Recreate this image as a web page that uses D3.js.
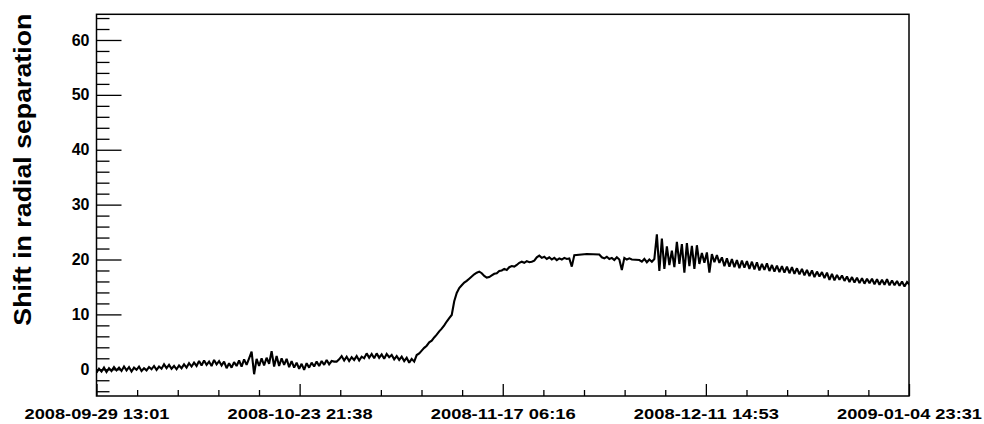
<!DOCTYPE html>
<html><head><meta charset="utf-8">
<script src="https://cdn.jsdelivr.net/npm/d3@7"></script>
<style>body{margin:0;background:#fff}</style>
</head><body>
<svg id="chart" width="984" height="424"></svg>
<script>
// ---- data ----
const startTime = "2008-09-29 13:01";
const endTime = "2009-01-04 23:31";
const stepDays = 0.3; // sampling interval of the series below
const shift = [
 -0.6, 0.1,-0.4, 0.3,-0.5, 0.2,-0.3, 0.4,-0.2, 0.3,
 -0.3, 0.5,-0.2, 0.4,-0.4, 0.3,-0.1, 0.5,-0.3, 0.2,
 -0.2, 0.4, 0.0, 0.6,-0.1, 0.5, 0.1, 0.9, 0.2, 0.8,
  0.1, 0.6, 0.0, 0.7, 0.2, 0.9, 0.3, 1.1, 0.5, 1.2,
  0.6, 1.5, 0.7, 1.6, 0.8, 1.4, 0.6, 1.7, 0.9, 1.5,
  0.7, 1.4, 0.2, 1.1, 0.3, 1.3, 0.6, 1.6, 0.5, 1.8,
  0.8, 2.0, 3.2,-0.9, 1.9, 0.6, 2.0, 0.7, 2.1, 1.0,
  3.3, 0.5, 2.4, 0.6, 2.0, 0.8, 1.9, 0.4, 1.5, 0.3,
  1.2, 0.1, 1.0,-0.1, 1.1, 0.3, 1.2, 0.5, 1.4, 0.6,
  1.5, 0.8, 1.7, 0.9, 1.5, 1.4, 1.4, 1.8, 2.4, 1.6,
  2.3, 1.5, 2.2, 1.7, 2.4, 1.6, 2.3, 2.0, 2.9, 2.1,
  2.8, 2.0, 2.9, 2.1, 2.7, 1.9, 2.8, 2.2, 2.6, 1.8,
  2.4, 1.7, 2.3, 1.5, 2.1, 1.2, 1.9, 1.4, 2.6, 2.9,
  3.4, 3.9, 4.3, 4.9, 5.2, 5.8, 6.3, 6.9, 7.4, 8.0,
  8.7, 9.3, 9.9,12.4,13.9,14.8,15.3,15.8,16.1,16.5,
 16.9,17.3,17.6,17.8,17.5,17.0,16.7,16.8,17.1,17.4,
 17.5,17.9,18.0,18.3,18.1,18.6,18.8,18.7,19.0,19.4,
 19.6,19.4,19.7,19.5,19.6,19.8,20.4,20.7,20.3,20.5,
 20.1,20.4,20.0,20.3,19.9,20.2,20.0,20.3,20.1,20.2,
 18.7,20.8,null,null,null,null,21.0,null,null,null,
 null,20.9,20.4,20.2,20.5,20.1,20.3,19.9,20.4,20.0,
 18.1,20.3,20.0,20.2,20.0,null,null,19.9,19.6,20.1,
 19.5,20.0,19.6,20.1,24.6,17.9,23.8,18.3,22.4,19.0,
 21.6,18.6,23.2,19.2,22.8,17.6,23.0,18.8,22.5,18.3,
 22.6,19.2,21.2,19.4,21.3,17.6,21.0,19.5,20.8,19.4,
 20.4,18.8,20.2,18.7,20.1,18.6,19.9,18.4,19.8,18.5,
 19.7,18.3,19.6,18.2,19.5,18.0,19.2,18.1,19.3,17.9,
 19.0,17.8,18.9,17.7,18.8,17.6,18.7,17.5,18.6,17.4,
 18.4,17.3,18.3,17.1,18.1,17.0,18.0,16.8,17.8,16.9,
 17.7,16.6,17.6,16.3,17.4,16.2,17.2,16.3,17.1,16.1,
 16.9,15.9,16.8,15.8,16.7,15.7,16.6,15.6,16.5,15.7,
 16.5,15.5,16.4,15.4,16.3,15.4,16.4,15.3,16.2,15.3,
 16.1,15.2,16.0,15.1,15.9,15.4
];
const xTickLabels = ["2008-09-29 13:01","2008-10-23 21:38","2008-11-17 06:16","2008-12-11 14:53","2009-01-04 23:31"];
const yMajorTicks = [0,10,20,30,40,50,60];
const yMinorTicks = [-4,-2,2,4,6,8,12,14,16,18,22,24,26,28,32,34,36,38,42,44,46,48,52,54,56,58,62,64];
const yTitle = "Shift in radial separation";

// ---- chart ----
const parse = d3.timeParse("%Y-%m-%d %H:%M");
const t0 = parse(startTime), t1 = parse(endTime);
const DAY = 86400000;
const series = shift.map((v,i)=>({t:new Date(+t0 + i*stepDays*DAY), v}));

const L=96.5, R=909, T=14.3, B=396;
const x = d3.scaleTime().domain([t0,t1]).range([L,R]);
const y = d3.scaleLinear().domain([-4.87,64.68]).range([B,T]);

const svg = d3.select("#chart");
const font = "'Liberation Sans', Arial, Helvetica, sans-serif";

svg.append("defs").append("clipPath").attr("id","clip")
  .append("rect").attr("x",L).attr("y",T).attr("width",R-L).attr("height",B-T);

// data line (gaps bridged with straight segments like the original)
const line = d3.line().x(d=>x(d.t)).y(d=>y(d.v));
svg.append("path")
  .datum(series.filter(d=>d.v!==null))
  .attr("clip-path","url(#clip)")
  .attr("fill","none").attr("stroke","#000").attr("stroke-width",2.1)
  .attr("stroke-linejoin","miter").attr("stroke-miterlimit",2)
  .attr("d",line);

// y axis
const yMinorAxis = d3.axisLeft(y).tickValues(yMinorTicks).tickSizeInner(-13).tickSizeOuter(0).tickFormat("");
const gyMinor = svg.append("g").attr("transform",`translate(${L},0)`).call(yMinorAxis);
gyMinor.select(".domain").remove();
const yAxis = d3.axisLeft(y).tickValues(yMajorTicks).tickSizeInner(-25).tickSizeOuter(0).tickPadding(7).tickFormat(d3.format("d"));
const gy = svg.append("g").attr("transform",`translate(${L},0)`).call(yAxis);
gy.select(".domain").remove();
gy.selectAll("text").attr("font-family",font).attr("font-weight","bold").attr("font-size",16).attr("fill","#000");

// x axis
const xMajor = xTickLabels.map(s=>parse(s));
const xMinor = [];
for(let k=0;k<xMajor.length-1;k++){
  for(let j=1;j<5;j++) xMinor.push(new Date(+xMajor[k] + (xMajor[k+1]-xMajor[k])*j/5));
}
const xMinorAxis = d3.axisBottom(x).tickValues(xMinor).tickSizeInner(-6).tickSizeOuter(0).tickFormat("");
const gxMinor = svg.append("g").attr("transform",`translate(0,${B})`).call(xMinorAxis);
gxMinor.select(".domain").remove();
const xAxis = d3.axisBottom(x).tickValues(xMajor).tickSizeInner(-12).tickSizeOuter(0).tickPadding(12)
  .tickFormat((d,i)=>xTickLabels[i]);
const gx = svg.append("g").attr("transform",`translate(0,${B})`).call(xAxis);
gx.select(".domain").remove();
gx.selectAll("text").attr("font-family",font).attr("font-weight","bold").attr("font-size",15.5).attr("fill","#000")
  .attr("textLength",145).attr("lengthAdjust","spacingAndGlyphs");

svg.selectAll(".tick line").attr("stroke","#000").attr("stroke-width",1.3);

// frame
svg.append("rect").attr("x",L).attr("y",T).attr("width",R-L).attr("height",B-T)
  .attr("fill","none").attr("stroke","#000").attr("stroke-width",1.5);

// y title
svg.append("text")
  .attr("transform",`translate(31,${(T+325)/2}) rotate(-90)`)
  .attr("text-anchor","middle")
  .attr("font-family",font).attr("font-weight","bold").attr("font-size",24)
  .attr("textLength",312).attr("lengthAdjust","spacingAndGlyphs")
  .attr("fill","#000")
  .text(yTitle);
</script>
</body></html>
